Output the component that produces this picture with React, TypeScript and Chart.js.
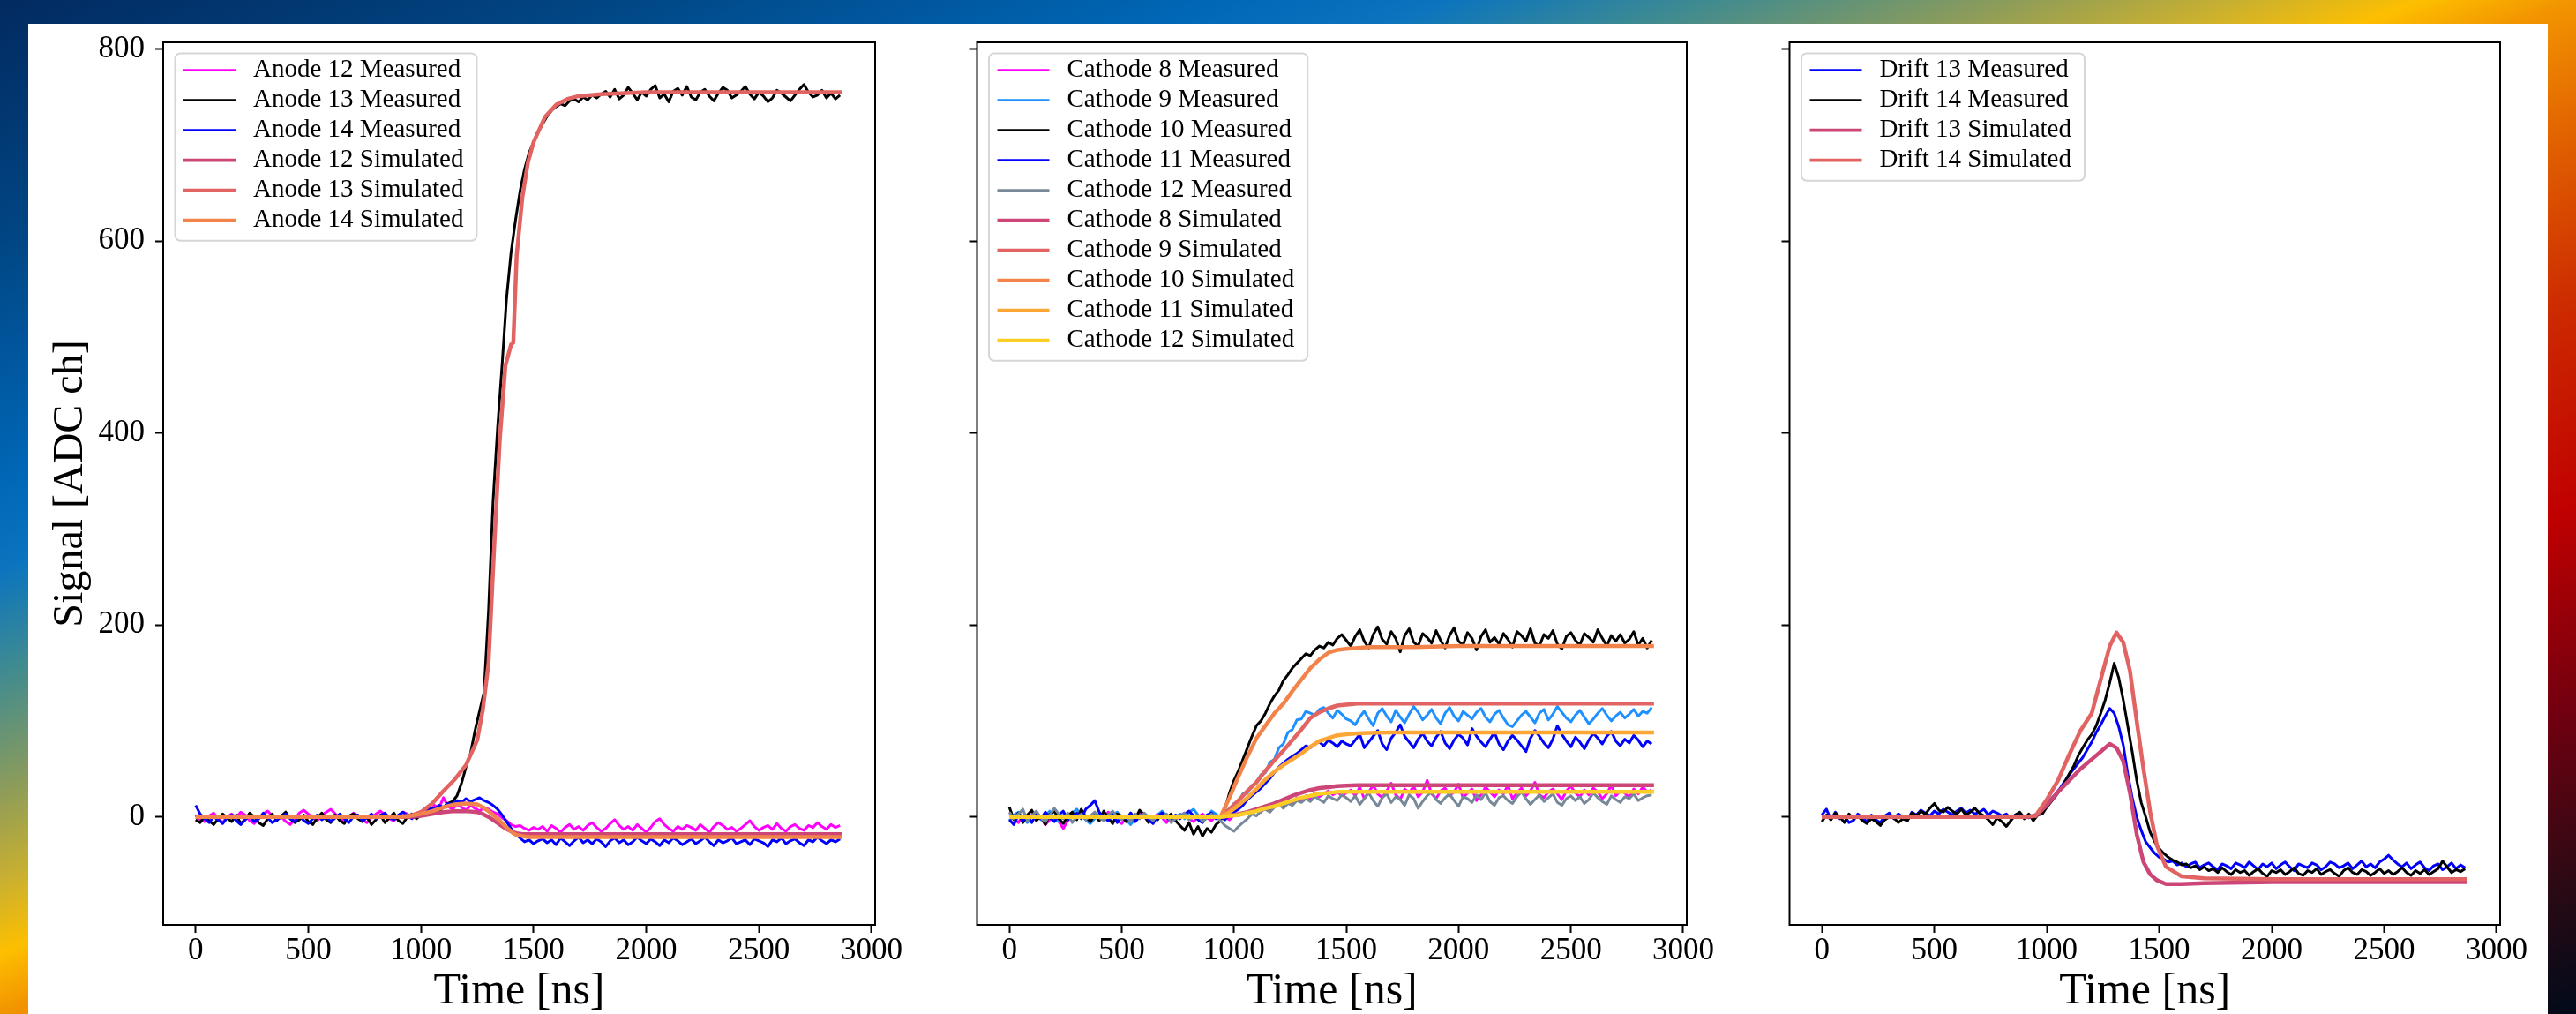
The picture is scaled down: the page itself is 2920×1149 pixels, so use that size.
import React, { useEffect, useRef } from 'react';
import { Chart, registerables } from 'chart.js';

Chart.register(...registerables);

const FONT = "'Liberation Serif', 'Times New Roman', serif";

// ---------- axes ----------
const X_MIN = -144;
const X_MAX = 3016;
const Y_MIN = -112.5;
const Y_MAX = 807;
const xTickValues = [0, 500, 1000, 1500, 2000, 2500, 3000];
const yTickValues = [0, 200, 400, 600, 800];

// ---------- sampling times (ns) ----------
const measTime = [
  0, 20, 40, 60, 80, 100, 120, 140, 160, 180,
  200, 220, 240, 260, 280, 300, 320, 340, 360, 380,
  400, 420, 440, 460, 480, 500, 520, 540, 560, 580,
  600, 620, 640, 660, 680, 700, 720, 740, 760, 780,
  800, 820, 840, 860, 880, 900, 920, 940, 960, 980,
  1000, 1020, 1040, 1060, 1080, 1100, 1120, 1140, 1160, 1180,
  1200, 1220, 1240, 1260, 1280, 1300, 1320, 1340, 1360, 1380,
  1400, 1420, 1440, 1460, 1480, 1500, 1520, 1540, 1560, 1580,
  1600, 1620, 1640, 1660, 1680, 1700, 1720, 1740, 1760, 1780,
  1800, 1820, 1840, 1860, 1880, 1900, 1920, 1940, 1960, 1980,
  2000, 2020, 2040, 2060, 2080, 2100, 2120, 2140, 2160, 2180,
  2200, 2220, 2240, 2260, 2280, 2300, 2320, 2340, 2360, 2380,
  2400, 2420, 2440, 2460, 2480, 2500, 2520, 2540, 2560, 2580,
  2600, 2620, 2640, 2660, 2680, 2700, 2720, 2740, 2760, 2780,
  2800, 2820, 2840, 2860,
];

// ---------- Anode panel ----------
const anode12Meas = [
  2, -3, -5, 1, 4, -2, -6, 0, 3, -1,
  5, 2, -4, -7, -2, 3, 6, 1, -3, 0,
  -5, -8, -2, 4, 7, 3, -1, -4, 2, 5,
  8, 3, -2, -5, 0, 4, 1, -3, -6, -1,
  3, 6, 2, -2, -4, 1, 5, 3, -1, 2,
  4, 8, 6, 12, 9, 20, 11, 8, 13, 10,
  7, 12, 9, 6, 10, 8, 5, 3, -1, -4,
  -8, -10, -9, -12, -14, -11, -13, -10, -15, -9,
  -12, -16, -11, -8, -13, -10, -14, -9, -6, -11,
  -15, -12, -7, -3, -9, -13, -10, -14, -8, -12,
  -16, -11, -5, -2, -8, -12, -15, -10, -13, -9,
  -11, -14, -8, -12, -16, -10, -6, -9, -13, -11,
  -15, -12, -8, -4, -10, -14, -11, -9, -13, -7,
  -12, -15, -10, -8, -12, -14, -9, -11, -6, -10,
  -13, -8, -11, -9,
];
const anode13Meas = [
  -3, -6, 1, -4, -8, -2, 3, -1, -5, 2,
  -7, -3, 4, 0, -6, -9, -2, 3, -4, 1,
  5, -2, -6, -3, 2, -5, -8, -1, 4, -3,
  -6, 2, -4, -7, 1, 3, -2, -5, 0, -8,
  -3, 2, -6, -1, 4, -4, -7, 0, 3, -2,
  2, 5, 3, 8, 6, 10, 14, 16, 22, 35,
  52, 66, 90, 110, 130, 215, 328, 405, 470, 540,
  588, 622, 652, 675, 692, 703, 714, 722, 730, 736,
  740, 743, 741, 746, 748, 745, 750, 747, 752, 749,
  753, 756, 750, 758, 748, 752, 760, 754, 747, 755,
  751, 758, 762, 749, 753, 745, 756, 759, 752, 761,
  750, 747, 755, 758, 751, 746, 754, 760, 757, 749,
  752, 756, 761, 753, 748, 755, 751, 745, 749, 757,
  754, 750, 746, 752, 758, 763, 755, 750, 752, 757,
  749, 754, 748, 752,
];
const anode14Meas = [
  12, 3, -2, -6, 0, -3, -7, -1, 2, -4,
  -8, -3, 1, -5, -2, 4, -1, -6, -3, 0,
  3, -2, -5, 1, -4, -7, -2, 2, -3, 0,
  -5, -1, 3, -2, -6, 0, 2, -4, -1, 3,
  -2, 1, 4, -1, -3, 2, 5, 1, -2, 3,
  4, 6, 9, 8, 12, 10, 14, 13, 17, 15,
  19, 16, 18, 20, 17, 15, 12, 8, 2, -5,
  -12, -18, -22, -26, -24, -28, -25, -23, -27, -24,
  -29, -22, -26, -30, -25, -21, -27, -24, -28, -23,
  -26, -31, -25, -22, -27, -24, -29, -26, -21, -25,
  -28, -23, -26, -30, -24, -27, -22, -25, -29, -26,
  -23, -28, -25, -21, -26, -30, -24, -27, -25, -22,
  -28, -26, -24, -29, -23, -25, -27, -31, -24, -26,
  -22, -28, -25, -23, -27, -30, -24, -26, -21, -25,
  -28, -24, -26, -23,
];
const anodeSimTime = [0, 500, 900, 950, 1000, 1050, 1100, 1150, 1200, 1250, 1275, 1300, 1325, 1350, 1375, 1400, 1410, 1425, 1450, 1475, 1500, 1550, 1600, 1650, 1700, 1800, 2000, 2500, 2870];
const anode12Sim = [0, 0, 0, 0, 1, 3, 5, 6, 6, 5, 3, 0, -4, -8, -12, -15, -16, -17, -18, -18, -18, -18, -18, -18, -18, -18, -18, -18, -18];
const anode13Sim = [0, 0, 0, 1, 5, 14, 27, 39, 54, 80, 112, 160, 280, 393, 470, 492, 494, 585, 645, 682, 703, 729, 742, 748, 751, 753, 755, 755, 755];
const anode14Sim = [0, 0, 0, 1, 3, 6, 10, 13, 14, 13, 10, 6, 1, -4, -10, -15, -17, -19, -20, -21, -21, -21, -21, -21, -21, -21, -21, -21, -21];

// ---------- Cathode panel ----------
const cathode8Meas = [
  3, -2, -6, 1, -4, 2, 5, -1, -8, -3,
  0, -5, -12, -4, 2, -1, 4, -3, -6, 0,
  3, -2, 5, 1, -4, -7, -1, 2, -3, 4,
  0, -5, -2, 3, -1, -6, 2, -3, 1, 4,
  -2, -5, 0, 3, -1, -4, 1, -2, 0, -3,
  2, 1, 4, 3, 6, 8, 5, 10, 7, 12,
  15, 11, 18, 14, 20, 17, 22, 19, 25, 21,
  24, 27, 23, 26, 22, 25, 28, 22, 31, 19,
  26, 33, 24, 20, 27, 35, 23, 18, 29, 25,
  32, 21, 26, 38, 24, 19, 27, 30, 22, 26,
  34, 20, 25, 29, 17, 23, 31, 26, 21, 28,
  24, 33, 19, 25, 30, 22, 27, 36, 23, 20,
  26, 29, 24, 18, 27, 32, 25, 21, 28, 23,
  30, 26, 19, 24, 33, 22, 27, 25, 20, 29,
  24, 31, 26, 28,
];
const cathode9Meas = [
  -4, 2, 5, -1, -6, 0, 3, -3, 1, 6,
  -2, -5, 2, -1, 4, 8, 1, -3, -7, -2,
  3, 0, -4, 2, 5, -1, -3, -8, -2, 1,
  4, -1, -5, 2, 6, 1, -3, 0, 3, -2,
  5, 8, 2, -4, -1, 6, 3, -1, 5, 6,
  14, 15, 24, 25, 33, 35, 44, 46, 57, 60,
  72, 76, 88, 91, 101, 102, 110, 108, 106, 112,
  114, 108, 103, 111, 107, 102, 100, 96, 104, 110,
  102, 95, 108, 113, 105, 99, 111, 104, 98, 107,
  115, 109, 101, 106, 112, 103, 97, 108, 114, 105,
  100, 110, 106, 102, 109, 113, 104, 99, 107, 111,
  103, 96, 94, 100, 106, 110, 104, 98, 108, 112,
  101, 107, 115, 109, 103, 99, 106, 111, 104, 97,
  102, 108, 113, 106, 100, 105, 109, 103, 107, 112,
  105, 110, 108, 114,
];
const cathode10Meas = [
  10, -3, 4, -6, 2, 7, -4, 1, -8, 3,
  6, -2, -7, 1, 5, -3, 8, 0, -5, 2,
  -4, 6, -1, -7, 3, 1, -5, 4, -2, 7,
  2, -6, 1, -3, 4, -1, 3, -4, -9, -14,
  -6, -18, -10, -20, -12, -16, -8, -4, 8, 25,
  38, 48, 60, 72, 84, 95, 100, 108, 118, 126,
  132, 142, 148, 155, 160, 165, 170, 168, 174, 178,
  176, 182, 179, 186, 190, 184, 178, 188, 195, 183,
  176, 190, 198, 185, 180, 193, 186, 172, 189, 196,
  182, 178, 191, 187, 181, 194, 184, 176, 189, 197,
  183, 179, 192, 186, 174, 188, 195, 182, 187, 180,
  191, 185, 177, 193, 189, 183, 196, 181, 178, 190,
  186, 194, 180, 175, 188, 192, 184, 179, 191, 187,
  182, 195, 186, 178, 189, 183, 190, 181, 185, 193,
  179, 186, 176, 184,
];
const cathode11Meas = [
  -3, -8, 2, -4, 1, -6, 3, -2, 5, -1,
  -5, 2, 6, -3, 0, 4, -2, 8, 12, 17,
  5, -1, -4, 3, -6, 1, -2, 4, -5, 0,
  2, -3, -7, 1, 4, -1, -4, 2, -2, 3,
  6, 1, -3, -6, 2, 4, -2, 0, -3, 2,
  5, 8, 12, 18, 22, 26, 30, 35, 40, 46,
  52, 56, 60, 63, 66, 70, 74, 72, 76, 78,
  74, 80, 77, 73, 79, 76, 74, 80, 86, 72,
  78, 84, 90, 76, 70, 82, 88, 96, 84, 78,
  72, 81, 87, 79, 74, 83, 89, 77, 71, 80,
  86, 82, 75, 92, 84, 78, 73, 81, 88, 76,
  70, 79, 85, 80, 74, 68, 82, 90, 84, 77,
  72, 81, 95, 86, 79, 73, 83, 78, 71, 80,
  87, 82, 76, 84, 89, 79, 74, 81, 77, 85,
  80, 73, 79, 76,
];
const cathode12Meas = [
  5, -2, 3, 8, -4, 1, 6, -1, -5, 2,
  9, 3, -2, 4, -6, 0, 3, -3, 1, 5,
  -1, -4, 2, 6, 0, -3, 1, -5, 3, -2,
  4, 0, -4, 2, -1, 3, -6, -2, 1, 4,
  -3, 0, 2, -5, -1, 3, 0, -4, -9, -12,
  -15, -10, -6, -2, 3, 1, 6, 8, 5, 10,
  13, 9, 14, 12, 17, 15, 19, 16, 21, 18,
  15, 22, 19, 17, 23, 20, 16, 22, 13, 19,
  25, 17, 11, 20, 24, 15, 21, 18, 12, 23,
  19, 9, 16, 22, 26, 18, 14, 20, 24, 17,
  11, 21, 19, 15, 23, 18, 25, 16, 12, 20,
  22, 17, 14, 21, 26, 19, 13, 18, 23, 16,
  20, 24, 15, 12, 19, 22, 17, 21, 14, 18,
  25, 20, 16, 13, 22, 18, 15, 21, 19, 24,
  17, 20, 22, 23,
];
const cathodeSimTime = [0, 500, 900, 940, 980, 1020, 1060, 1100, 1140, 1180, 1220, 1260, 1300, 1340, 1380, 1420, 1460, 1500, 1550, 1600, 1700, 1800, 2000, 2500, 2870];
const cathode8Sim = [0, 0, 0, 0, 1, 3, 5, 8, 11, 14, 18, 22, 25, 28, 30, 31, 32, 32.5, 33, 33, 33, 33, 33, 33, 33];
const cathode9Sim = [0, 0, 0, 0, 8, 17, 27, 36, 48, 59, 69, 80, 91, 103, 109, 113, 116, 117, 118, 118, 118, 118, 118, 118, 118];
const cathode10Sim = [0, 0, 0, 0, 20, 42, 63, 82, 95, 108, 118, 131, 143, 155, 164, 171, 174, 175, 176, 177, 177, 177, 178, 178, 178];
const cathode11Sim = [0, 0, 0, 0, 5, 12, 20, 29, 39, 47, 54, 60, 66, 73, 79, 82, 85, 86, 87, 87.5, 88, 88, 88, 88, 88];
const cathode12Sim = [0, 0, 0, 0, 1, 2, 4, 6, 9, 11, 14, 17, 20, 22, 24, 25, 26, 26, 26, 26, 26, 26, 26, 26, 26];

// ---------- Drift panel ----------
const drift13Meas = [
  2, 8, -3, 5, -2, 1, -6, -4, 3, -1,
  -5, 2, -3, -6, 1, 4, -2, 3, 0, -4,
  5, 2, 7, 4, 1, 6, 3, 8, 5, 2,
  6, 9, 4, 7, 3, 5, 8, 2, 6, 4,
  1, 3, -2, 2, 4, 0, -1, 1, 4, 8,
  14, 19, 24, 30, 37, 44, 50, 56, 62, 70,
  78, 88, 96, 105, 113, 108, 94, 75, 45, 20,
  0, -14, -26, -32, -38, -42, -44, -47, -46, -50,
  -48, -52, -49, -47, -53, -50, -48, -52, -55, -49,
  -51, -54, -48, -50, -53, -47, -51, -55, -49, -52,
  -48, -54, -50, -47, -52, -56, -49, -51, -53, -48,
  -50, -55, -52, -47, -49, -53, -51, -48, -54, -50,
  -46, -52, -49, -53, -47, -44, -40, -45, -49, -52,
  -48, -54, -50, -47, -53, -56, -51, -49, -55, -52,
  -48, -54, -50, -53,
];
const drift14Meas = [
  -5, 2, -3, 4, 0, -6, 3, -2, 1, -4,
  -7, -2, -5, -9, -3, 0, -1, -6, -2, -4,
  4, 1, 6, 3, 9, 14, 7, 5, 10, 6,
  3, 8, 2, 5, 9, 4, 1, -3, -8, -1,
  -5, -10, -4, 2, 5, -2, 3, -4, 2, 3,
  10, 16, 22, 28, 36, 45, 53, 64, 72, 80,
  86, 95, 108, 122, 140, 160, 145, 122, 95, 68,
  38, 15, 0, -16, -26, -33, -38, -42, -45, -47,
  -50, -49, -53, -51, -55, -52, -56, -54, -58, -53,
  -57, -60, -55, -58, -56, -61, -57, -54, -59, -62,
  -56, -58, -55, -60, -57, -53, -59, -61, -56, -58,
  -54, -60, -57, -55, -59, -62, -56, -53, -58, -60,
  -55, -57, -61, -58, -54, -59, -56, -60, -57, -53,
  -58, -61, -56, -59, -55, -60, -57, -54, -46, -52,
  -58, -55, -57, -54,
];
const driftSimTime = [0, 500, 900, 950, 1000, 1050, 1100, 1150, 1200, 1250, 1280, 1310, 1340, 1370, 1400, 1430, 1460, 1490, 1530, 1600, 1700, 2000, 2500, 2870];
const drift13Sim = [0, 0, 0, 1, 12, 26, 38, 50, 60, 70, 76, 72, 58, 25, -18, -47, -60, -66, -70, -70, -69, -68, -68, -68];
const drift14Sim = [0, 0, 0, 1, 18, 38, 65, 90, 108, 152, 178, 192, 182, 152, 100, 50, 5, -30, -52, -62, -64, -65, -65, -65];

// ---------- series definitions ----------
const MEAS_W = 3;
const SIM_W = 4.5;

const anodeSeries = [
  { label: 'Anode 12 Measured', color: '#ff00ff', time: measTime, values: anode12Meas, width: MEAS_W },
  { label: 'Anode 13 Measured', color: '#000000', time: measTime, values: anode13Meas, width: MEAS_W },
  { label: 'Anode 14 Measured', color: '#0000ff', time: measTime, values: anode14Meas, width: MEAS_W },
  { label: 'Anode 12 Simulated', color: '#cc4778', time: anodeSimTime, values: anode12Sim, width: SIM_W },
  { label: 'Anode 13 Simulated', color: '#e16462', time: anodeSimTime, values: anode13Sim, width: SIM_W },
  { label: 'Anode 14 Simulated', color: '#f2844b', time: anodeSimTime, values: anode14Sim, width: SIM_W },
];
const cathodeSeries = [
  { label: 'Cathode 8 Measured', color: '#ff00ff', time: measTime, values: cathode8Meas, width: MEAS_W },
  { label: 'Cathode 9 Measured', color: '#1e90ff', time: measTime, values: cathode9Meas, width: MEAS_W },
  { label: 'Cathode 10 Measured', color: '#000000', time: measTime, values: cathode10Meas, width: MEAS_W },
  { label: 'Cathode 11 Measured', color: '#0000ff', time: measTime, values: cathode11Meas, width: MEAS_W },
  { label: 'Cathode 12 Measured', color: '#778899', time: measTime, values: cathode12Meas, width: MEAS_W },
  { label: 'Cathode 8 Simulated', color: '#cc4778', time: cathodeSimTime, values: cathode8Sim, width: SIM_W },
  { label: 'Cathode 9 Simulated', color: '#e16462', time: cathodeSimTime, values: cathode9Sim, width: SIM_W },
  { label: 'Cathode 10 Simulated', color: '#f2844b', time: cathodeSimTime, values: cathode10Sim, width: SIM_W },
  { label: 'Cathode 11 Simulated', color: '#fca636', time: cathodeSimTime, values: cathode11Sim, width: SIM_W },
  { label: 'Cathode 12 Simulated', color: '#fccd25', time: cathodeSimTime, values: cathode12Sim, width: SIM_W },
];
const driftSeries = [
  { label: 'Drift 13 Measured', color: '#0000ff', time: measTime, values: drift13Meas, width: MEAS_W },
  { label: 'Drift 14 Measured', color: '#000000', time: measTime, values: drift14Meas, width: MEAS_W },
  { label: 'Drift 13 Simulated', color: '#cc4778', time: driftSimTime, values: drift13Sim, width: SIM_W },
  { label: 'Drift 14 Simulated', color: '#e16462', time: driftSimTime, values: drift14Sim, width: SIM_W },
];

const CANVAS_H = 1149;

const panels = [
  { key: 'anode', left: 0, width: 1040, yAxisWidth: 185, padRight: 48, showY: true, series: anodeSeries },
  { key: 'cathode', left: 1040, width: 920, yAxisWidth: 67.5, padRight: 48, showY: false, series: cathodeSeries },
  { key: 'drift', left: 1960, width: 960, yAxisWidth: 68.5, padRight: 86, showY: false, series: driftSeries },
];

// ---------- plugins ----------
const framePlugin = {
  id: 'frameBox',
  afterDatasetsDraw(chart: any) {
    const { ctx, chartArea: a } = chart;
    ctx.save();
    ctx.strokeStyle = '#000';
    ctx.lineWidth = 2;
    ctx.strokeRect(a.left, a.top, a.right - a.left, a.bottom - a.top);
    ctx.restore();
  },
};

const insideLegendPlugin = {
  id: 'insideLegend',
  afterDraw(chart: any) {
    const { ctx, chartArea: a } = chart;
    const ds = chart.data.datasets;
    ctx.save();
    ctx.font = `29px ${FONT}`;
    let maxW = 0;
    ds.forEach((d: any) => {
      maxW = Math.max(maxW, ctx.measureText(d.label).width);
    });
    const boxL = a.left + 13.5;
    const boxT = a.top + 12.5;
    const rowY0 = a.top + 31.7;
    const rowH = 34;
    const textX = a.left + 102;
    const boxR = textX + maxW + 15;
    const boxB = rowY0 + rowH * (ds.length - 1) + 23;
    const r = 6;
    ctx.beginPath();
    ctx.moveTo(boxL + r, boxT);
    ctx.lineTo(boxR - r, boxT);
    ctx.arcTo(boxR, boxT, boxR, boxT + r, r);
    ctx.lineTo(boxR, boxB - r);
    ctx.arcTo(boxR, boxB, boxR - r, boxB, r);
    ctx.lineTo(boxL + r, boxB);
    ctx.arcTo(boxL, boxB, boxL, boxB - r, r);
    ctx.lineTo(boxL, boxT + r);
    ctx.arcTo(boxL, boxT, boxL + r, boxT, r);
    ctx.closePath();
    ctx.fillStyle = 'rgba(255,255,255,0.85)';
    ctx.fill();
    ctx.strokeStyle = '#d6d6d6';
    ctx.lineWidth = 2;
    ctx.stroke();
    ds.forEach((d: any, i: number) => {
      const y = rowY0 + i * rowH;
      ctx.strokeStyle = d.borderColor;
      ctx.lineWidth = d.borderWidth <= MEAS_W ? 2.8 : 3.8;
      ctx.lineCap = 'butt';
      ctx.beginPath();
      ctx.moveTo(a.left + 23, y);
      ctx.lineTo(a.left + 82, y);
      ctx.stroke();
      ctx.fillStyle = '#000';
      ctx.textAlign = 'left';
      ctx.textBaseline = 'middle';
      ctx.fillText(d.label, textX, y);
    });
    ctx.restore();
  },
};

function buildConfig(p: any) {
  const n = p.series.length;
  const datasets = p.series.map((s: any, idx: number) => ({
    label: s.label,
    data: s.time.map((t: number, i: number) => ({ x: t, y: s.values[i] })),
    borderColor: s.color,
    backgroundColor: s.color,
    borderWidth: s.width,
    pointRadius: 0,
    tension: 0,
    fill: false,
    borderJoinStyle: 'round',
    order: n - idx,
  }));
  return {
    type: 'line',
    data: { datasets },
    options: {
      responsive: false,
      maintainAspectRatio: false,
      animation: false,
      devicePixelRatio: 1,
      events: [],
      layout: { padding: { left: 0, top: 48, right: p.padRight, bottom: 0 } },
      plugins: { legend: { display: false }, tooltip: { enabled: false }, title: { display: false } },
      scales: {
        x: {
          type: 'linear',
          min: X_MIN,
          max: X_MAX,
          afterBuildTicks: (s: any) => {
            s.ticks = xTickValues.map((v) => ({ value: v }));
          },
          afterFit: (s: any) => {
            s.height = 101;
            s.paddingLeft = 0;
            s.paddingRight = 0;
          },
          ticks: {
            font: { family: FONT, size: 35 },
            color: '#000',
            padding: 0,
            maxRotation: 0,
            minRotation: 0,
            autoSkip: false,
            callback: (v: any) => String(v),
          },
          grid: { drawOnChartArea: false, drawTicks: true, tickLength: 9, tickWidth: 2, tickColor: '#000', color: '#000' },
          border: { display: false },
          title: {
            display: true,
            text: 'Time [ns]',
            font: { family: FONT, size: 50, lineHeight: 1 },
            color: '#000',
            padding: 0,
          },
        },
        y: {
          type: 'linear',
          min: Y_MIN,
          max: Y_MAX,
          afterBuildTicks: (s: any) => {
            s.ticks = yTickValues.map((v) => ({ value: v }));
          },
          afterFit: (s: any) => {
            s.width = p.yAxisWidth;
            s.paddingTop = 0;
            s.paddingBottom = 0;
          },
          ticks: {
            font: { family: FONT, size: 35 },
            color: '#000',
            padding: 12,
            autoSkip: false,
            callback: (v: any) => (p.showY ? String(v) : ''),
          },
          grid: { drawOnChartArea: false, drawTicks: true, tickLength: 9, tickWidth: 2, tickColor: '#000', color: '#000' },
          border: { display: false },
          title: {
            display: p.showY,
            text: 'Signal [ADC ch]',
            font: { family: FONT, size: 48, lineHeight: 1 },
            color: '#000',
            padding: { top: 56, bottom: 0 },
          },
        },
      },
    },
    plugins: [framePlugin, insideLegendPlugin],
  };
}

function Panel({ spec }: { spec: any }) {
  const ref = useRef<HTMLCanvasElement>(null);
  useEffect(() => {
    if (!ref.current) return;
    const chart = new Chart(ref.current, buildConfig(spec) as any);
    return () => chart.destroy();
  }, [spec]);
  return (
    <canvas
      ref={ref}
      width={spec.width}
      height={CANVAS_H}
      style={{ position: 'absolute', left: spec.left, top: 0, width: spec.width, height: CANVAS_H }}
    />
  );
}

export default function App() {
  useEffect(() => {
    document.body.style.margin = '0';
    document.body.style.overflow = 'hidden';
  }, []);
  return (
    <div
      style={{
        position: 'absolute',
        left: 0,
        top: 0,
        width: 2920,
        height: 1149,
        overflow: 'hidden',
        background:
          'linear-gradient(to bottom right, #022a60 0%, #014684 12%, #0068b8 24%, #0a74bf 28%, #3d8a92 33%, #8c9c5a 39%, #c9b030 43.5%, #fdbf00 47%, #f29400 50%, #e05e00 57%, #cc2a00 65%, #c00000 75%, #700010 85%, #2a0a14 93.5%, #000a1a 100%)',
      }}
    >
      <div style={{ position: 'absolute', left: 32, top: 27, width: 2856, height: 1122, background: '#ffffff' }} />
      {panels.map((p) => (
        <Panel key={p.key} spec={p} />
      ))}
    </div>
  );
}
